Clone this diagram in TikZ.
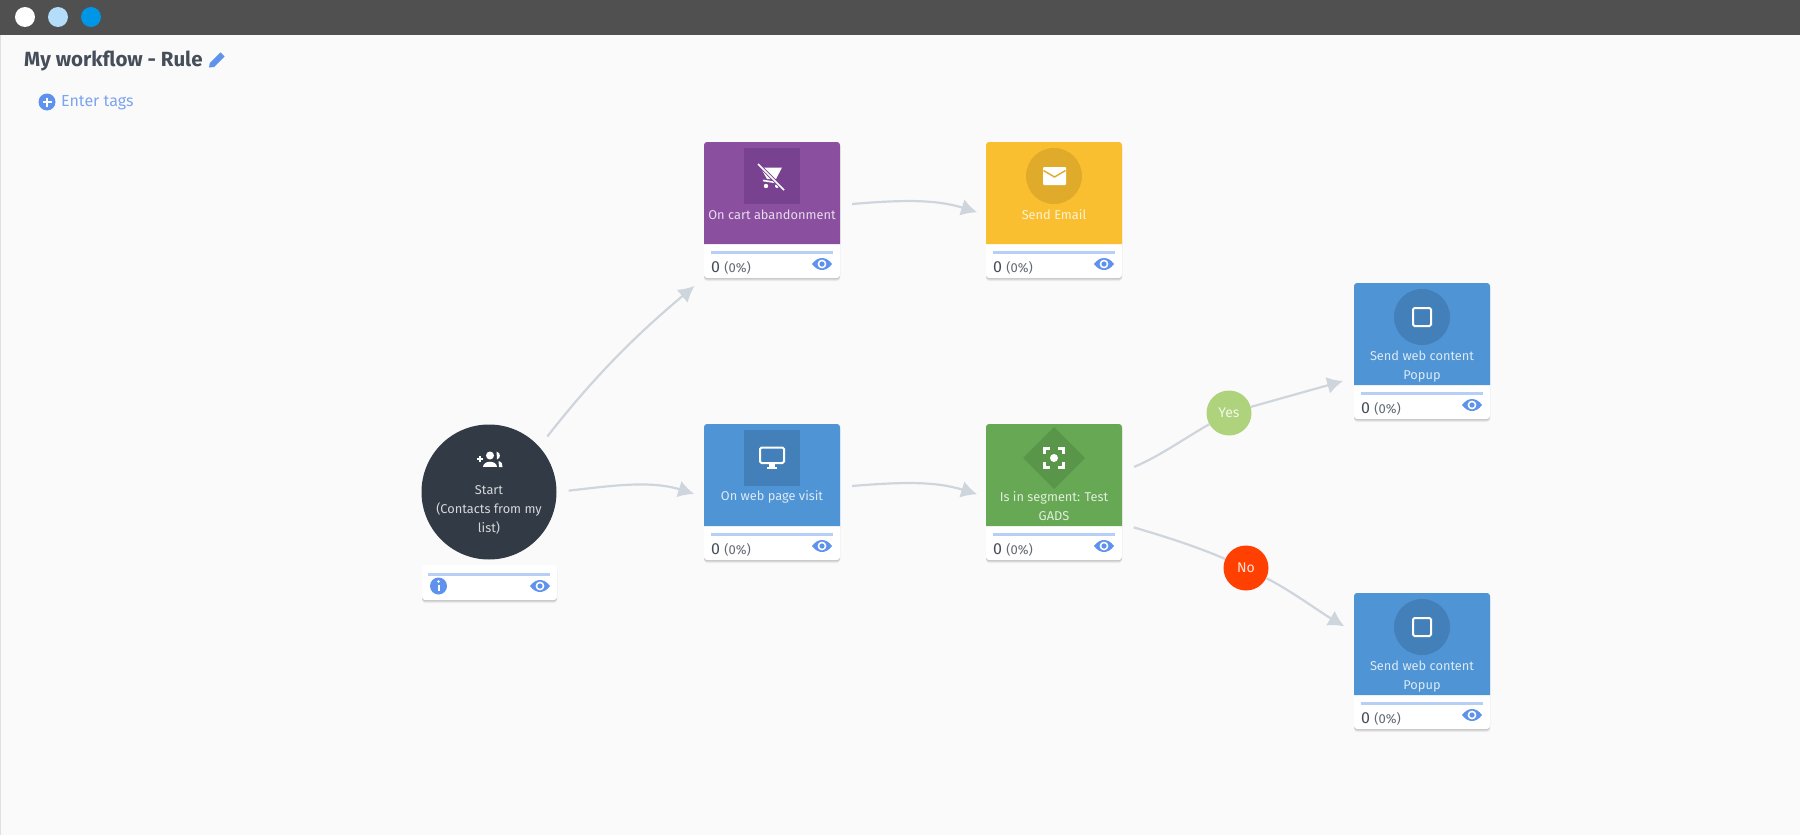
\documentclass[tikz,border=0pt]{standalone}
\usepackage{fontspec}
\setmainfont{Fira Sans}
\usetikzlibrary{arrows.meta,shadows}
\definecolor{pagecol}{HTML}{FAFAFA}
\definecolor{barcol}{HTML}{505050}
\definecolor{dotcola}{HTML}{B3DDF8}
\definecolor{dotcolb}{HTML}{0096E6}
\definecolor{titlecol}{HTML}{454E5A}
\definecolor{linkcol}{HTML}{7DA4EE}
\definecolor{iconcol}{HTML}{5F92EC}
\definecolor{flowcol}{HTML}{CFD5DC}
\definecolor{startcol}{HTML}{323A45}
\definecolor{purplecol}{HTML}{8A4F9F}
\definecolor{purpledark}{HTML}{784290}
\definecolor{yellowcol}{HTML}{F9BF30}
\definecolor{yellowdark}{HTML}{E0AB2A}
\definecolor{bluecol}{HTML}{4F94D4}
\definecolor{bluedark}{HTML}{4380BA}
\definecolor{greencol}{HTML}{66A853}
\definecolor{greendark}{HTML}{5A964A}
\definecolor{yescol}{HTML}{AED37C}
\definecolor{nocol}{HTML}{FF4000}
\tikzset{eye/.pic={
    \fill[iconcol] (-10,0) .. controls (-4,-8) and (4,-8) .. (10,0) .. controls (4,8) and (-4,8) .. (-10,0) -- cycle;
    \fill[white] (0,0) circle (4.4);
    \fill[iconcol] (0,0) circle (2.6);
}}
\begin{document}
\begin{tikzpicture}[x=1pt, y=-1pt]
    \tikzstyle{softshadow} = [drop shadow={shadow xshift=0pt, shadow yshift=-3pt, fill=black, opacity=0.05}, drop shadow={shadow xshift=0pt, shadow yshift=-2pt, fill=black, opacity=0.08}, drop shadow={shadow xshift=0pt, shadow yshift=-1pt, fill=black, opacity=0.10}]
    \tikzstyle{card} = [fill=white, rounded corners=3pt, minimum width=136pt, minimum height=136pt, inner sep=0pt, softshadow]
    \tikzstyle{foot} = [fill=white, rounded corners=3pt, minimum width=135pt, minimum height=35pt, inner sep=0pt, softshadow]
    \tikzstyle{cardtext} = [text=white, text opacity=0.8, align=center, font=\fontsize{12.8}{19}\selectfont, inner sep=0pt]
    \tikzstyle{cardcount} = [anchor=west, inner sep=0pt, text=titlecol, font=\fontsize{16}{16}\selectfont]
    \tikzstyle{cardbar} = [color=iconcol!45!white, line width=3pt]
    \tikzstyle{flow} = [color=flowcol, line width=2.2pt, -{Latex[length=16pt, width=17pt]}]
    \tikzstyle{plainflow} = [color=flowcol, line width=2.2pt]
    \tikzstyle{branch} = [circle, minimum size=45pt, inner sep=0pt, text=white, text opacity=0.85, font=\fontsize{14}{14}\selectfont]
    \tikzstyle{iconline} = [color=white, line width=2pt, rounded corners=1.5pt]
    \fill[pagecol] (0,0) rectangle (1800,835);
    \fill[barcol] (0,0) rectangle (1800,35);
    \draw[color=black!12] (0.5,35) -- (0.5,835);
    \fill[white] (25,17) circle (10);
    \fill[dotcola] (58,17) circle (10);
    \fill[dotcolb] (91,17) circle (10);
    \node[anchor=west, inner sep=0pt, text=titlecol, font=\fontsize{20.5}{20}\selectfont\bfseries] (title) at (24,61) {My workflow - Rule};
    \fill[iconcol] (209,67.5) -- (209.8,63) -- (220.5,52.3) -- (224.7,56.5) -- (214,67) -- cycle;
    \fill[iconcol] (47,102) circle (8.5);
    \draw[color=white, line width=2pt] (42.5,102) -- (51.5,102) (47,97.5) -- (47,106.5);
    \node[anchor=west, inner sep=0pt, text=linkcol, font=\fontsize{16}{16}\selectfont] (tags) at (61,103) {Enter tags};

    \node[circle, fill=startcol, minimum size=135pt, inner sep=0pt] (start) at (489,492) {};
    \node[cardtext] (starttext) at (489,509.5) {Start\\(Contacts from my\\list)};
    \fill[white] (490,455.5) circle (4);
    \fill[white] (483,467) .. controls (483,460) and (497,460) .. (497,467) -- cycle;
    \fill[white] (496.5,451.5) .. controls (501,453) and (501,458) .. (497,459.5) -- cycle;
    \fill[white] (498.5,461) .. controls (502,462) and (502.5,464) .. (502.5,467) -- (499,467) -- cycle;
    \draw[color=white, line width=1.6pt] (477,459) -- (483,459) (480,456) -- (480,462);
    \node[foot] (startfoot) at (489.5,582.5) {};
    \draw[cardbar] (428,574) -- (550,574);
    \fill[iconcol] (438.5,586) circle (8.5);
    \fill[white] (438.5,581.5) circle (1.3);
    \draw[color=white, line width=2pt] (438.5,584.5) -- (438.5,591);
    \pic at (540,586) {eye};

    \begin{scope}[shift={(704,142)}]
        \node[card] (cart) at (68,68) {};
        \fill[purplecol] (0,102) [rounded corners=3pt] -- (0,0) -- (136,0) [sharp corners] -- (136,102) -- cycle;
        \fill[purpledark] (40,6) rectangle (96,62);
        \fill[white] (56.5,25.5) -- (78,25.5) -- (72,37) -- (63,37) -- cycle;
        \draw[color=white, line width=1.6pt] (59,38.5) -- (72,40.5);
        \fill[white] (62,44) circle (2.2) (73,44) circle (2);
        \draw[color=purpledark, line width=3.4pt] (54,22) -- (80,48);
        \draw[color=white, line width=1.7pt] (54,22) -- (80,48);
        \node[cardtext] (carttext) at (68,73) {On cart abandonment};
        \draw[cardbar] (7,110) -- (129,110);
        \node[cardcount] (cartcount) at (7,126) {0 {\fontsize{13}{13}\selectfont\color{titlecol!85!white}(0\%)}};
        \pic at (118,122) {eye};
    \end{scope}

    \begin{scope}[shift={(986,142)}]
        \node[card] (email) at (68,68) {};
        \fill[yellowcol] (0,102) [rounded corners=3pt] -- (0,0) -- (136,0) [sharp corners] -- (136,102) -- cycle;
        \fill[yellowdark] (68,34) circle (28);
        \fill[white, rounded corners=1pt] (57,25) rectangle (80,43);
        \draw[color=yellowdark, line width=1.4pt] (57.5,28.5) -- (68.5,35) -- (79.5,28.5);
        \node[cardtext] (emailtext) at (68,73) {Send Email};
        \draw[cardbar] (7,110) -- (129,110);
        \node[cardcount] (emailcount) at (7,126) {0 {\fontsize{13}{13}\selectfont\color{titlecol!85!white}(0\%)}};
        \pic at (118,122) {eye};
    \end{scope}

    \begin{scope}[shift={(704,424)}]
        \node[card] (web) at (68,68) {};
        \fill[bluecol] (0,102) [rounded corners=3pt] -- (0,0) -- (136,0) [sharp corners] -- (136,102) -- cycle;
        \fill[bluedark] (40,6) rectangle (96,62);
        \draw[iconline] (56,23.5) rectangle (80,39);
        \fill[white] (65,39) rectangle (71,43);
        \fill[white] (63,43) rectangle (73,45);
        \node[cardtext] (webtext) at (68,73) {On web page visit};
        \draw[cardbar] (7,110) -- (129,110);
        \node[cardcount] (webcount) at (7,126) {0 {\fontsize{13}{13}\selectfont\color{titlecol!85!white}(0\%)}};
        \pic at (118,122) {eye};
    \end{scope}

    \begin{scope}[shift={(986,424)}]
        \node[card] (segment) at (68,68) {};
        \fill[greencol] (0,102) [rounded corners=3pt] -- (0,0) -- (136,0) [sharp corners] -- (136,102) -- cycle;
        \fill[greendark] (68,3) -- (99,34) -- (68,65) -- (37,34) -- cycle;
        \fill[white] (68,34) circle (4);
        \draw[color=white, line width=2.4pt] (58.5,30) -- (58.5,24.5) -- (64,24.5) (72,24.5) -- (77.5,24.5) -- (77.5,30) (77.5,38) -- (77.5,43.5) -- (72,43.5) (64,43.5) -- (58.5,43.5) -- (58.5,38);
        \node[cardtext] (segmenttext) at (68,82.5) {Is in segment: Test\\GADS};
        \draw[cardbar] (7,110) -- (129,110);
        \node[cardcount] (segmentcount) at (7,126) {0 {\fontsize{13}{13}\selectfont\color{titlecol!85!white}(0\%)}};
        \pic at (118,122) {eye};
    \end{scope}

    \begin{scope}[shift={(1354,283)}]
        \node[card] (popupa) at (68,68) {};
        \fill[bluecol] (0,102) [rounded corners=3pt] -- (0,0) -- (136,0) [sharp corners] -- (136,102) -- cycle;
        \fill[bluedark] (68,34) circle (28);
        \draw[iconline] (59,25) rectangle (77,43);
        \node[cardtext] (popupatext) at (68,83.5) {Send web content\\Popup};
        \draw[cardbar] (7,110) -- (129,110);
        \node[cardcount] (popupacount) at (7,126) {0 {\fontsize{13}{13}\selectfont\color{titlecol!85!white}(0\%)}};
        \pic at (118,122) {eye};
    \end{scope}

    \begin{scope}[shift={(1354,593)}]
        \node[card] (popupb) at (68,68) {};
        \fill[bluecol] (0,102) [rounded corners=3pt] -- (0,0) -- (136,0) [sharp corners] -- (136,102) -- cycle;
        \fill[bluedark] (68,34) circle (28);
        \draw[iconline] (59,25) rectangle (77,43);
        \node[cardtext] (popupbtext) at (68,83.5) {Send web content\\Popup};
        \draw[cardbar] (7,110) -- (129,110);
        \node[cardcount] (popupbcount) at (7,126) {0 {\fontsize{13}{13}\selectfont\color{titlecol!85!white}(0\%)}};
        \pic at (118,122) {eye};
    \end{scope}

    \node[branch, fill=yescol] (yes) at (1229,413) {Yes};
    \node[branch, fill=nocol] (no) at (1246,568) {No};

    \draw[flow, shorten <=13pt, shorten >=12pt] (start.42) .. controls (590,382) and (630,340) .. (cart.south west);
    \draw[flow, shorten <=12pt, shorten >=10pt] (start.east) .. controls (610,486) and (650,480) .. ([yshift=-5pt]web.west);
    \draw[flow, shorten <=12pt, shorten >=9pt] ([yshift=5pt]cart.east) .. controls (900,200) and (935,199) .. ([yshift=-5pt]email.west);
    \draw[flow, shorten <=12pt, shorten >=9pt] ([yshift=5pt]web.east) .. controls (900,482) and (935,481) .. ([yshift=-5pt]segment.west);
    \draw[plainflow, shorten <=13pt] ([yshift=20pt]segment.east) .. controls (1160,456) and (1185,438) .. (yes);
    \draw[flow, shorten >=11pt] (yes) -- ([yshift=-27pt]popupa.west);
    \draw[plainflow, shorten <=12pt] ([yshift=-32pt]segment.east) .. controls (1170,538) and (1200,548) .. (no);
    \draw[flow, shorten >=11pt] (no) .. controls (1290,590) and (1320,612) .. ([yshift=29pt]popupb.west);
\end{tikzpicture}
\end{document}
